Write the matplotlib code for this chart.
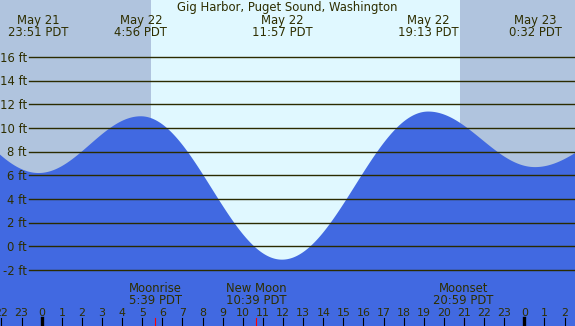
import numpy as np
import matplotlib.pyplot as plt

# tide extremes, hours from May 22 00:00 (edge entries estimated off-chart)
tide_hours = [-6.2, -0.15, 4.93, 11.95, 19.22, 24.53, 29.8]
tide_feet = [13.0, 6.2, 11.0, -1.13, 11.4, 6.7, 10.5]
tide_days = [None, "May 21", "May 22", "May 22", "May 22", "May 23", None]
tide_times = [None, "23:51 PDT", "4:56 PDT", "11:57 PDT", "19:13 PDT", "0:32 PDT", None]

sunrise = 5.42
sunset = 20.8

moon_names = ["Moonrise", "New Moon", "Moonset"]
moon_times = ["5:39 PDT", "10:39 PDT", "20:59 PDT"]
moon_hours = [5.65, 10.65, 20.983]

grid_feet = [16, 14, 12, 10, 8, 6, 4, 2, 0, -2]
hour_ticks = list(range(-2, 27))

title = "Gig Harbor, Puget Sound, Washington"

W, H = 575, 326
PX_FT = 11.82
xlim = (-41.7 / 20.11, (W - 41.7) / 20.11)
ylim = (-(H - 246.3) / PX_FT, 246.3 / PX_FT)

night = '#b0c4de'
day = '#e0f8ff'
water = '#4169e1'
ink = '#2e2e00'

fig = plt.figure(figsize=(W / 100, H / 100), dpi=100)
ax = fig.add_axes([0, 0, 1, 1])
ax.set_xlim(*xlim)
ax.set_ylim(*ylim)
ax.axis('off')

ax.axvspan(xlim[0], sunrise, color=night, lw=0)
ax.axvspan(sunrise, sunset, color=day, lw=0)
ax.axvspan(sunset, xlim[1], color=night, lw=0)

# cosine shape between successive extremes
t = np.linspace(xlim[0], xlim[1], 1200)
y = np.empty_like(t)
for i in range(len(tide_hours) - 1):
    t0, t1 = tide_hours[i], tide_hours[i + 1]
    h0, h1 = tide_feet[i], tide_feet[i + 1]
    m = (t >= t0) & (t <= t1)
    f = (t[m] - t0) / (t1 - t0)
    y[m] = h0 + (h1 - h0) * (1 - np.cos(np.pi * f)) / 2
ax.fill_between(t, y, ylim[0], color=water, lw=0)

fs = 8.35


def top(px):
    # pixel row from the top -> axes fraction
    return 1 - px / H


for g in grid_feet:
    ax.axhline(g, xmin=29 / W, xmax=1, color='#2b2b00', lw=1.0)
    ax.text(27 / W, g - 4.6 / PX_FT, f"{g} ft", transform=ax.get_yaxis_transform(),
            ha='right', va='baseline', fontsize=fs, color=ink)

xt = ax.get_xaxis_transform()
ax.text(0.5, top(11.3), title, transform=ax.transAxes, ha='center',
        va='baseline', fontsize=fs, color=ink)
for d, tm, hr in zip(tide_days, tide_times, tide_hours):
    if d is None:
        continue
    ax.text(hr, top(24), d, transform=xt, ha='center', va='baseline',
            fontsize=fs, color=ink)
    ax.text(hr, top(36.3), tm, transform=xt, ha='center', va='baseline',
            fontsize=fs, color=ink)

for name, tm, hr in zip(moon_names, moon_times, moon_hours):
    ax.text(hr, top(291.5), name, transform=xt, ha='center', va='baseline',
            fontsize=fs, color=ink)
    ax.text(hr, top(304.3), tm, transform=xt, ha='center', va='baseline',
            fontsize=fs, color=ink)
    ax.plot([hr, hr], [0, 8.5 / H], transform=xt, color='red', lw=0.8)

for hr in hour_ticks:
    ax.text(hr, top(315.7), str(hr % 24), transform=xt, ha='center',
            va='baseline', fontsize=7.9, color=ink)
    lw = 2.4 if hr % 24 == 0 else 0.8
    ax.plot([hr, hr], [0, 8.5 / H], transform=xt, color='black', lw=lw)

fig.savefig('out.png', dpi=100)
